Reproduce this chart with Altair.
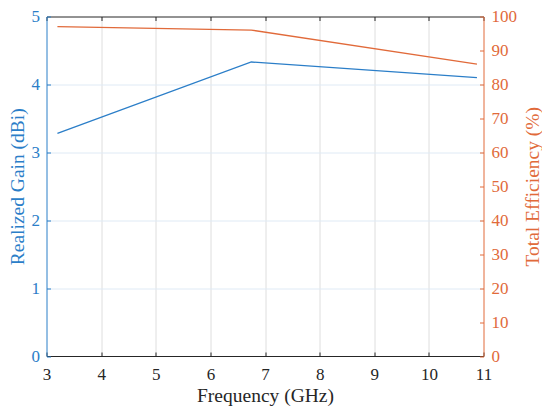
import altair as alt
import pandas as pd

# ---- data ----
freq = [3.2, 6.75, 10.88]          # GHz
gain = [3.28, 4.33, 4.10]          # dBi
eff = [97, 96, 86]                 # %

x_ticks = [3, 4, 5, 6, 7, 8, 9, 10, 11]
gain_ticks = [0, 1, 2, 3, 4, 5]
eff_ticks = [0, 10, 20, 30, 40, 50, 60, 70, 80, 90, 100]
x_grid = [4, 5, 6, 7, 8, 9, 10]
gain_grid = [1, 2, 3, 4]

df = pd.DataFrame({"freq": freq, "gain": gain, "eff": eff})

BLUE = "#2b7ec8"
ORANGE = "#e16a3a"
DARK = "#262626"
FONT = "Liberation Serif"
TICK_FS = 17
TITLE_FS = 19.5

xs = alt.Scale(domain=[3, 11], nice=False, zero=False)
ys_g = alt.Scale(domain=[0, 5], nice=False)
ys_e = alt.Scale(domain=[0, 100], nice=False)

base = alt.Chart(df)

gain_line = base.mark_line(color=BLUE, strokeWidth=1.3).encode(
    x=alt.X("freq:Q", scale=xs, axis=alt.Axis(
        orient="bottom", values=x_ticks, title="Frequency (GHz)", grid=False,
        ticks=False, domain=True, domainColor=DARK, domainWidth=1,
        labelColor=DARK, titleColor=DARK, labelFont=FONT, titleFont=FONT,
        labelFontSize=TICK_FS, titleFontSize=TITLE_FS, titleFontWeight="normal",
        labelPadding=10, titlePadding=4, labelFlush=False, zindex=1)),
    y=alt.Y("gain:Q", scale=ys_g, axis=alt.Axis(
        orient="left", values=gain_ticks, title="Realized Gain (dBi)", grid=False,
        ticks=False, domain=True, domainColor=BLUE, domainWidth=1,
        labelColor=BLUE, titleColor=BLUE, labelFont=FONT, titleFont=FONT,
        labelFontSize=TICK_FS, titleFontSize=TITLE_FS, titleFontWeight="normal",
        labelPadding=7, titlePadding=4, labelFlush=False, zindex=1)),
)

eff_line = base.mark_line(color=ORANGE, strokeWidth=1.3).encode(
    x=alt.X("freq:Q", scale=xs, axis=alt.Axis(
        orient="top", values=x_ticks, title=None, grid=False, ticks=False,
        labels=False, domain=True, domainColor=DARK, domainWidth=1, zindex=1)),
    y=alt.Y("eff:Q", scale=ys_e, axis=alt.Axis(
        orient="right", values=eff_ticks, title="Total Efficiency (%)", grid=False,
        ticks=False, domain=True, domainColor=ORANGE, domainWidth=1,
        labelColor=ORANGE, titleColor=ORANGE, labelFont=FONT, titleFont=FONT,
        labelFontSize=TICK_FS, titleFontSize=TITLE_FS, titleFontWeight="normal",
        labelPadding=7.5, titlePadding=6.5, titleAngle=270, titleBaseline="top",
        labelFlush=False, zindex=1)),
)

grid_layer = base.mark_line(strokeOpacity=0).encode(
    x=alt.X("freq:Q", scale=xs, axis=alt.Axis(
        orient="bottom", values=x_grid, title=None, grid=True, gridColor="#dedede",
        gridWidth=1, ticks=False, labels=False, domain=False)),
    y=alt.Y("gain:Q", scale=ys_g, axis=alt.Axis(
        orient="left", values=gain_grid, title=None, grid=True, gridColor="#dfeaf5",
        gridWidth=1, ticks=False, labels=False, domain=False)),
)

ticks_a = base.mark_line(strokeOpacity=0).encode(
    x=alt.X("freq:Q", scale=xs, axis=alt.Axis(
        orient="top", offset=-4, values=x_ticks, title=None, grid=False,
        ticks=True, tickSize=4, tickColor=DARK, tickWidth=1, labels=False,
        domain=False, zindex=1)),
    y=alt.Y("gain:Q", scale=ys_g, axis=alt.Axis(
        orient="left", offset=-4, values=gain_ticks, title=None, grid=False,
        ticks=True, tickSize=4, tickColor=BLUE, tickWidth=1, labels=False,
        domain=False, zindex=1)),
)

ticks_b = base.mark_line(strokeOpacity=0).encode(
    x=alt.X("freq:Q", scale=xs, axis=alt.Axis(
        orient="bottom", offset=-4, values=x_ticks, title=None, grid=False,
        ticks=True, tickSize=4, tickColor=DARK, tickWidth=1, labels=False,
        domain=False, zindex=1)),
    y=alt.Y("eff:Q", scale=ys_e, axis=alt.Axis(
        orient="right", offset=-4, values=eff_ticks, title=None, grid=False,
        ticks=True, tickSize=4, tickColor=ORANGE, tickWidth=1, labels=False,
        domain=False, zindex=1)),
)

chart = (
    alt.layer(grid_layer, gain_line, eff_line, ticks_a, ticks_b)
    .resolve_scale(x="independent", y="independent")
    .properties(
        width=437, height=339.5,
        autosize=alt.AutoSizeParams(type="none"),
        padding={"left": 38.5, "top": 8.5, "right": 58.5, "bottom": 55},
        background="white",
    )
    .configure(font=FONT)
    .configure_axis(labelFont=FONT, titleFont=FONT)
    .configure_view(stroke=None)
)

chart.save("out.html", embed_options={"renderer": "svg", "actions": False})
